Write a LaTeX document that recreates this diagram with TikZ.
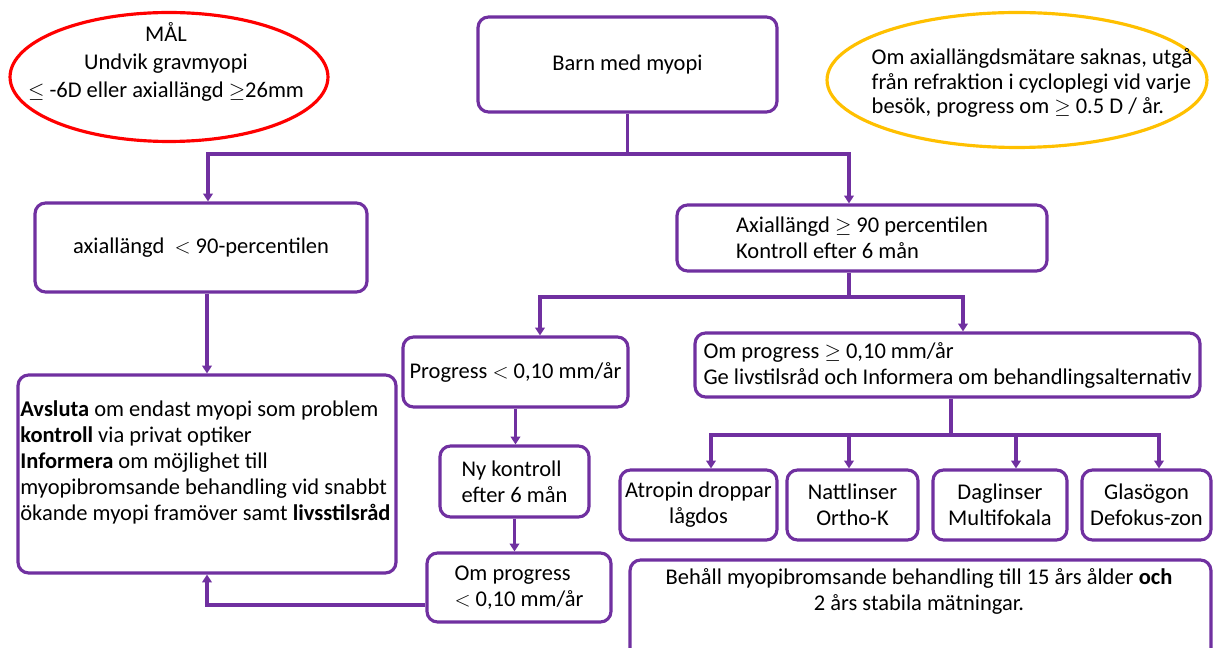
\documentclass[tikz,border=0pt]{standalone}
\usepackage{fontspec}
\setmainfont{Carlito}
\usetikzlibrary{arrows.meta,shapes.geometric}
\definecolor{lila}{HTML}{7030A0}
\definecolor{gul}{HTML}{FFC000}

\begin{document}
\begin{tikzpicture}
    [
    x=0.02cm, y=-0.02cm,
    font=\fontsize{12.8}{14.8}\selectfont,
    box/.style={draw=lila,line width=1.8pt,rounded corners=6pt,inner sep=2pt},
    alt/.style={box,minimum height=1.4cm,align=center},
    goal/.style={ellipse,draw,line width=1.8pt,inner sep=0pt},
    stem/.style={lila,line width=1.8pt},
    arr/.style={stem,-{Triangle[length=4.5pt,width=5.5pt]}}
    ]
    \clip (0,0) rectangle (1215,648);
    \fill [white] (0,0) rectangle (1215,648);
    \node (mal) at (169,77) [goal,draw=red,minimum width=6.36cm,minimum height=2.58cm] {};
    \node (maltxt) at (166,62) [align=center] {MÅL\\[1pt] Undvik gravmyopi\\[1pt] $\leq$ -6D eller axiallängd $\geq$26mm};
    \node (info) at (1017,80) [goal,draw=gul,minimum width=7.6cm,minimum height=2.7cm] {};
    \node (infotxt) at (1032,83) [align=left,font=\fontsize{12.8}{14}\selectfont] {Om axiallängdsmätare saknas, utgå\\ från refraktion i cycloplegi vid varje\\ besök, progress om $\geq$ 0.5 D / år.};
    \node (barn) at (627.5,64.5) [box,minimum width=5.98cm,minimum height=1.9cm] {Barn med myopi};
    \node (axlow) at (201,247.5) [box,minimum width=6.64cm,minimum height=1.78cm] {axiallängd~ $<$ 90-percentilen};
    \node (axhigh) at (862,238) [box,minimum width=7.4cm,minimum height=1.32cm,align=left] {Axiallängd $\geq$ 90 percentilen\\ Kontroll efter 6 mån};
    \node (progless) at (515.5,372) [box,minimum width=4.5cm,minimum height=1.4cm] {Progress $<$ 0,10 mm/år};
    \node (proghigh) at (947.5,365) [box,minimum width=10.1cm,minimum height=1.28cm,align=left] {Om progress $\geq$ 0,10 mm/år\\ Ge livstilsråd och Informera om behandlingsalternativ};
    \node (nykontroll) at (514.5,481.5) [box,minimum width=2.98cm,minimum height=1.42cm,align=left] {Ny kontroll\\ efter 6 mån};
    \node (omprog) at (519,587.5) [box,minimum width=3.68cm,minimum height=1.38cm,align=left] {Om progress\\ $<$ 0,10 mm/år};
    \node (slut) at (207,474) [box,minimum width=7.56cm,minimum height=3.96cm] {};
    \node (sluttxt) at (20,462) [anchor=west,align=left,inner sep=0pt] {\textbf{Avsluta} om endast myopi som problem\\ \textbf{kontroll} via privat optiker\\ \textbf{Informera} om möjlighet till\\ myopibromsande behandling vid snabbt\\ ökande myopi framöver samt \textbf{livsstilsråd}};
    \node (atropin) at (698.5,505) [alt,minimum width=3.14cm] {Atropin droppar\\ lågdos};
    \node (natt) at (852.5,505) [alt,minimum width=2.62cm] {Nattlinser\\ Ortho-K};
    \node (dag) at (1000,505) [alt,minimum width=2.68cm] {Daglinser\\ Multifokala};
    \node (glas) at (1146.5,505) [alt,minimum width=2.58cm] {Glasögon\\ Defokus-zon};
    \node (behall) at (920.5,615) [box,minimum width=11.62cm,minimum height=2.2cm] {};
    \node (behalltxt) at (919,591) [align=center] {Behåll myopibromsande behandling till 15 års ålder \textbf{och}\\ 2 års stabila mätningar.};
    \coordinate (j1) at (627.5,154);
    \coordinate (j2) at (849,297);
    \coordinate (j3) at (951,435);
    \draw [stem] (barn) -- (j1);
    \draw [arr] (j1) -| ([xshift=0.14cm]axlow.north);
    \draw [arr] (j1) -| ([xshift=-0.26cm]axhigh.north);
    \draw [arr] (slut.north |- axlow.south) -- (slut.north);
    \draw [stem] (j2 |- axhigh.south) -- (j2);
    \draw [arr] (j2) -| ([xshift=0.49cm]progless.north);
    \draw [arr] (j2) -| ([xshift=0.31cm]proghigh.north);
    \draw [arr] (progless.south) -- (progless.south |- nykontroll.north);
    \draw [arr] (nykontroll.south) -- (nykontroll.south |- omprog.north);
    \draw [arr] ([yshift=-0.35cm]omprog.west) -| (slut.south);
    \draw [stem] (j3 |- proghigh.south) -- (j3);
    \draw [arr] (j3) -| ([xshift=0.25cm]atropin.north);
    \draw [arr] (j3) -| ([xshift=-0.07cm]natt.north);
    \draw [arr] (j3) -| ([xshift=0.32cm]dag.north);
    \draw [arr] (j3) -| ([xshift=0.25cm]glas.north);
  \end{tikzpicture}
\end{document}
